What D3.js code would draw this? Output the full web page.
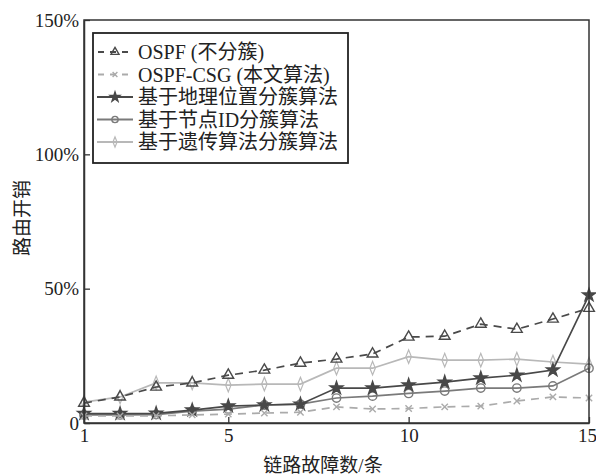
<!DOCTYPE html>
<html>
<head>
<meta charset="utf-8">
<script src="https://cdn.jsdelivr.net/npm/d3@7/dist/d3.min.js"></script>
<style>
  body { margin: 0; background: #fff; }
  svg { display: block; }
  text { font-family: "Liberation Serif", "Noto Sans CJK SC", serif; fill: #222; }
</style>
</head>
<body>
<svg id="chart" width="596" height="476"></svg>
<script>
// Number of failed links (x) and routing overhead in percent (y)
const failures = [1, 2, 3, 4, 5, 6, 7, 8, 9, 10, 11, 12, 13, 14, 15];
const ospf      = [7.4, 9.7, 13.4, 14.9, 17.8, 19.7, 22.3, 23.8, 25.7, 32.0, 32.3, 36.8, 34.9, 38.7, 42.7];
const ospfCsg   = [2.6, 2.6, 2.7, 3.0, 3.3, 3.7, 4.0, 6.0, 5.2, 5.4, 6.0, 6.3, 8.2, 9.7, 9.3];
const geoClust  = [3.5, 3.5, 3.6, 4.8, 6.3, 6.7, 7.0, 13.0, 13.0, 14.1, 15.2, 16.7, 17.8, 19.7, 47.6];
const nodeIdClust = [3.0, 3.0, 3.1, 4.4, 5.2, 6.7, 7.0, 9.3, 10.0, 11.0, 11.9, 13.0, 13.0, 13.8, 20.4];
const geneClust = [7.8, 9.7, 14.9, 14.9, 14.1, 14.5, 14.5, 20.4, 20.4, 24.7, 23.4, 23.4, 23.8, 22.7, 21.9];

const seriesNames = ["OSPF (不分簇)", "OSPF-CSG (本文算法)", "基于地理位置分簇算法", "基于节点ID分簇算法", "基于遗传算法分簇算法"];
const xTicks = [1, 5, 10, 15];
const yTicks = [0, 50, 100, 150];
const yTickLabels = ["0", "50%", "100%", "150%"];

const series = [
  { name: seriesNames[0], values: ospf,        color: "#4a4a4a", dash: "8,6", marker: "triangle" },
  { name: seriesNames[1], values: ospfCsg,     color: "#ababab", dash: "8,6", marker: "cross" },
  { name: seriesNames[2], values: geoClust,    color: "#484848", dash: null,  marker: "star" },
  { name: seriesNames[3], values: nodeIdClust, color: "#7a7a7a", dash: null,  marker: "circle" },
  { name: seriesNames[4], values: geneClust,   color: "#b8b8b8", dash: null,  marker: "diamond" }
];

const svg = d3.select("#chart");
const plotLeft = 84, plotRight = 589, plotTop = 20, plotBottom = 423;

const x = d3.scaleLinear().domain([1, 15]).range([plotLeft, plotRight]);
const y = d3.scaleLinear().domain([0, 150]).range([plotBottom, plotTop]);

// Markers
const symbolFor = {
  triangle: d3.symbol().type(d3.symbolTriangle).size(50),
  star: d3.symbol().type(d3.symbolStar).size(50),
  circle: d3.symbol().type(d3.symbolCircle).size(55),
  diamond: d3.symbol().type(d3.symbolDiamond).size(40),
  cross: d3.symbol().type(d3.symbolX).size(28)
};

function drawMarker(g, s, cx, cy, k = 1) {
  g.append("path")
    .attr("d", symbolFor[s.marker]())
    .attr("transform", `translate(${cx},${cy}) scale(${k})` + (s.marker === "diamond" ? " scale(0.8,1.15)" : ""))
    .attr("fill", s.marker === "star" ? s.color : "none")
    .attr("stroke", s.color)
    .attr("stroke-width", 1.4 / k);
}

// Series lines
const line = d3.line().x((d, i) => x(failures[i])).y(d => y(d));
const plot = svg.append("g");
series.slice().reverse().forEach(s => {
  plot.append("path")
    .datum(s.values)
    .attr("d", line)
    .attr("fill", "none")
    .attr("stroke", s.color)
    .attr("stroke-width", 1.7)
    .attr("stroke-dasharray", s.dash);
  s.values.forEach((v, i) => drawMarker(plot, s, x(failures[i]), y(v)));
});

// Frame
svg.append("rect")
  .attr("x", plotLeft).attr("y", plotTop)
  .attr("width", plotRight - plotLeft).attr("height", plotBottom - plotTop)
  .attr("fill", "none").attr("stroke", "#333").attr("stroke-width", 1.5);

// Axes with inward ticks
const xAxis = d3.axisBottom(x).tickValues(xTicks).tickSizeInner(-6).tickSizeOuter(0).tickPadding(6);
const gx = svg.append("g").attr("transform", `translate(0,${plotBottom})`).call(xAxis);
const yAxis = d3.axisLeft(y).tickValues(yTicks).tickSizeInner(-6).tickSizeOuter(0).tickPadding(5)
  .tickFormat((d, i) => yTickLabels[i]);
const gy = svg.append("g").attr("transform", `translate(${plotLeft},0)`).call(yAxis);
[gx, gy].forEach(g => {
  g.select(".domain").attr("stroke", "#333").attr("stroke-width", 1.5);
  g.selectAll(".tick line").attr("stroke", "#333").attr("stroke-width", 1.3);
  g.selectAll(".tick text").style("font-family", "Liberation Serif, serif").style("font-size", "19px").attr("fill", "#222");
});
gy.selectAll(".tick text").attr("dy", "0.32em");
gx.selectAll(".tick text").filter(d => d === 15).attr("dx", "-2px");

// Axis titles
svg.append("text")
  .attr("x", 323).attr("y", 472)
  .attr("text-anchor", "middle")
  .style("font-size", "19px")
  .text("链路故障数/条");
svg.append("text")
  .attr("transform", "translate(22,218) rotate(-90)")
  .attr("text-anchor", "middle")
  .attr("dy", "0.35em")
  .style("font-size", "19px")
  .text("路由开销");

// Legend
const legend = svg.append("g");
legend.append("rect")
  .attr("x", 93).attr("y", 33).attr("width", 255).attr("height", 130)
  .attr("fill", "#fff").attr("stroke", "#222").attr("stroke-width", 1.8);
series.forEach((s, i) => {
  const ly = 52 + i * 22.5;
  legend.append("line")
    .attr("x1", 97).attr("x2", 133).attr("y1", ly).attr("y2", ly)
    .attr("stroke", s.color).attr("stroke-width", 1.8)
    .attr("stroke-dasharray", s.dash ? "6,6" : null)
    .attr("stroke-dashoffset", s.dash ? -1 : null);
  drawMarker(legend, s, 115, ly, 0.75);
  legend.append("text")
    .attr("x", 138).attr("y", ly).attr("dy", "0.36em")
    .style("font-size", "20px")
    .text(s.name);
});
</script>
</body>
</html>
